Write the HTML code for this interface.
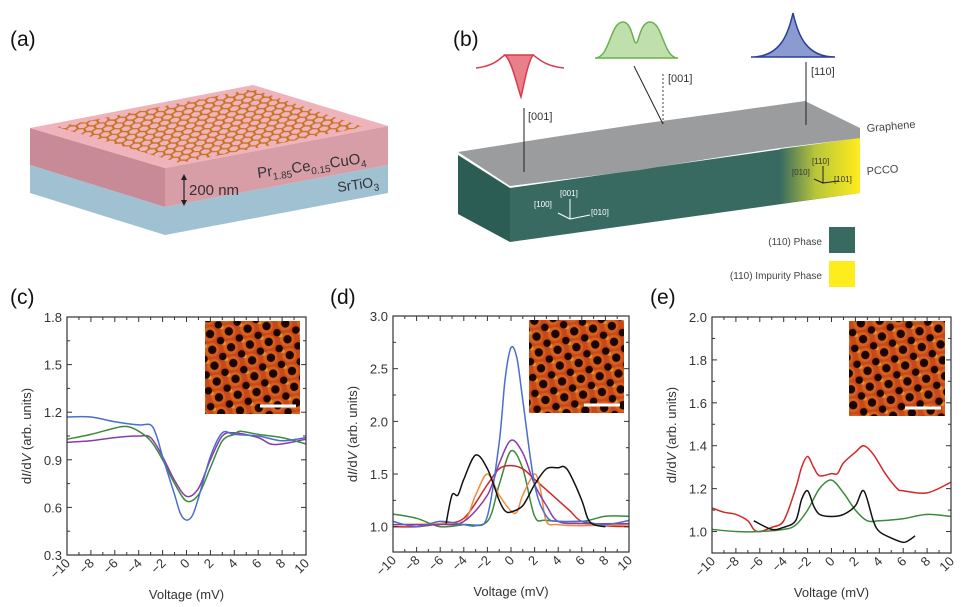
<!DOCTYPE html>
<html><head><meta charset="utf-8">
<style>
html,body{margin:0;padding:0;background:#fff;}
svg{display:block;font-family:"Liberation Sans",sans-serif;}
.lbl{font-family:"Liberation Sans",sans-serif;font-size:21px;fill:#111;}
.tick{font-size:13px;fill:#333;}
.ax{font-size:13px;fill:#333;}
</style></head>
<body>
<svg id="fig" width="978" height="607" viewBox="0 0 978 607" xmlns="http://www.w3.org/2000/svg">
<defs>
  <pattern id="hexpat" width="18" height="10.4" patternUnits="userSpaceOnUse" patternTransform="skewX(-25) scale(1,0.55)">
    <path d="M0 5.2 L3 0 L9 0 L12 5.2 L9 10.4 L3 10.4 Z M9 0 L12 5.2 L18 5.2" fill="none" stroke="#c8701c" stroke-width="2.2"/>
  </pattern>
  <clipPath id="topclip"><polygon points="57,127 253,89 363,127 180,163"/></clipPath>
  <pattern id="stm" width="19" height="16" patternUnits="userSpaceOnUse" patternTransform="rotate(-8)">
    <rect width="19" height="16" fill="#c8481a"/>
    <circle cx="9" cy="8" r="7" fill="#e0701e" opacity="0.6"/>
    <circle cx="3" cy="3" r="2" fill="#f0b030" opacity="0.7"/>
    <circle cx="9.5" cy="8" r="4.2" fill="#1a0500"/>
    <circle cx="0" cy="0" r="3.8" fill="#1a0500"/>
    <circle cx="19" cy="0" r="3.8" fill="#1a0500"/>
    <circle cx="0" cy="16" r="3.8" fill="#1a0500"/>
    <circle cx="19" cy="16" r="3.8" fill="#1a0500"/>
  </pattern>
  <linearGradient id="yel" x1="0" x2="1" y1="0" y2="0">
    <stop offset="0" stop-color="#386a62"/>
    <stop offset="0.45" stop-color="#b9c63a"/>
    <stop offset="1" stop-color="#ffec1c"/>
  </linearGradient>
</defs>

<!-- Panel (a) -->
<g>
  <text class="lbl" x="10" y="46">(a)</text>
  <polygon points="30,165 165,207 388,165 388,193 165,235 30,193" fill="#9fc1d2"/>
  <polygon points="30,128 165,168 165,207 30,165" fill="#c98a98"/>
  <polygon points="165,168 388,126 388,165 165,207" fill="#d89ea8"/>
  <polygon points="30,128 253,85 388,126 165,168" fill="#eeb3bb"/>
  <rect x="40" y="80" width="340" height="95" fill="url(#hexpat)" clip-path="url(#topclip)"/>
  <line x1="184" y1="176" x2="184" y2="204" stroke="#222" stroke-width="1.2"/>
  <polygon points="184,174 181,180 187,180" fill="#222"/><polygon points="184,206 181,200 187,200" fill="#222"/>
  <text x="189" y="195" font-size="15" fill="#333">200 nm</text>
  <text x="258" y="178" font-size="15" fill="#333" transform="rotate(-8 258 178)">Pr<tspan font-size="10" dy="4">1.85</tspan><tspan dy="-4">Ce</tspan><tspan font-size="10" dy="4">0.15</tspan><tspan dy="-4">CuO</tspan><tspan font-size="10" dy="4">4</tspan></text>
  <text x="338" y="192" font-size="14" fill="#333" transform="rotate(-8 338 192)">SrTiO<tspan font-size="10" dy="4">3</tspan></text>
</g>

<!-- Panel (b) -->
<g>
  <text class="lbl" x="453" y="46">(b)</text>
  <polygon points="458,155 510,188 510,242 458,214" fill="#2c5d55"/>
  <polygon points="510,188 860,138 860,193 510,242" fill="#386a62"/>
  <polygon points="780,149 860,138 860,193 780,204" fill="url(#yel)"/>
  <path d="M458,152 L560,136 Q600,130 640,124 L720,113 L805,101 L860,128 L860,138 L780,148 Q700,160 640,170 L510,186 Z" fill="#9b9c9e"/>
  <line x1="524" y1="172" x2="524" y2="108" stroke="#222" stroke-width="1"/>
  <text x="528" y="120" font-size="11" fill="#333">[001]</text>
  <line x1="663" y1="124" x2="634" y2="66" stroke="#222" stroke-width="1"/>
  <line x1="663" y1="124" x2="663" y2="72" stroke="#444" stroke-width="1" stroke-dasharray="2,2"/>
  <text x="668" y="82" font-size="11" fill="#333">[001]</text>
  <line x1="806" y1="125" x2="806" y2="62" stroke="#222" stroke-width="1"/>
  <text x="811" y="75" font-size="11" fill="#333">[110]</text>
  <path d="M476,68 C495,66 500,58 505,55 M533,55 C538,58 544,66 564,68" fill="none" stroke="#d83a4a" stroke-width="1.5"/>
  <path d="M505,55 C512,62 516,82 521,97 C525,80 528,62 533,55 Z" fill="#e8808c" stroke="#d83a4a" stroke-width="1.5"/>
  <path d="M595,58 C610,58 610,22 623,22 C632,22 633,43 636,43 C639,43 640,22 650,22 C663,22 663,58 678,58 Z" fill="#bfe0ad" stroke="#6ab04c" stroke-width="1.5"/>
  <path d="M751,57 C780,57 788,35 793,13 C798,35 806,57 835,57 Z" fill="#8a9bd0" stroke="#2a3d9a" stroke-width="1.5"/>
  <text x="867" y="132" font-size="11" fill="#444" transform="rotate(-5 867 132)">Graphene</text>
  <text x="867" y="175" font-size="11" fill="#444" transform="rotate(-5 867 175)">PCCO</text>
  <g fill="#fff" font-size="8" stroke="none">
    <text x="560" y="196">[001]</text><text x="591" y="215">[010]</text><text x="534" y="207">[100]</text>
  </g>
  <path d="M570,199 L570,219 L590,215 M570,219 L558,213" stroke="#fff" stroke-width="1" fill="none"/>
  <g fill="#333" font-size="8">
    <text x="812" y="164">[110]</text><text x="834" y="182">[101]</text><text x="792" y="175">[010]</text>
  </g>
  <path d="M823,166 L823,183 L838,181 M823,183 L814,179" stroke="#222" stroke-width="1" fill="none"/>
  <text x="822" y="245" font-size="10" fill="#444" text-anchor="end">(110) Phase</text>
  <rect x="829" y="227" width="26" height="26" fill="#386a62"/>
  <text x="822" y="279" font-size="10" fill="#444" text-anchor="end">(110) Impurity Phase</text>
  <rect x="829" y="261" width="26" height="26" fill="#ffec1c"/>
</g>

<text class="lbl" x="10" y="304">(c)</text>
<text class="lbl" x="330" y="304">(d)</text>
<text class="lbl" x="650" y="304">(e)</text>
<g id="charts"></g>
</svg>
<script>
// ---- Panel (c) data ----
const cBlueX = [-10,-8,-6,-4,-3,-2.5,-2,-1,-0.5,0,0.5,1,2,3,4,6,8,10];
const cBlueY = [1.17,1.17,1.14,1.12,1.12,1.05,0.92,0.68,0.56,0.52,0.55,0.66,0.92,1.07,1.06,1.05,1.02,1.04];
const cGreenX = [-10,-8,-6,-5,-4,-3,-2,-1,0,1,2,3,4,4.5,6,8,10];
const cGreenY = [1.03,1.06,1.10,1.11,1.08,1.02,0.90,0.75,0.64,0.68,0.85,1.02,1.06,1.08,1.06,1.04,1.00];
const cPurpleX = [-10,-8,-6,-4,-3,-2,-1,0,1,2,3,4,6,7,8,10];
const cPurpleY = [1.01,1.02,1.04,1.05,1.04,0.92,0.77,0.67,0.72,0.90,1.05,1.07,1.04,1.00,1.00,1.03];
const cYTicks = [0.3,0.6,0.9,1.2,1.5,1.8];
// ---- Panel (d) data ----
const dBlueX = [-10,-8,-6,-4,-3,-2,-1,-0.5,0,0.5,1,2,3,4,6,8,10];
const dBlueY = [1.05,1.0,1.05,1.02,1.01,1.1,1.8,2.4,2.7,2.6,2.2,1.4,1.1,1.05,1.05,1.02,1.06];
const dPurpleX = [-10,-6,-4,-2,-1,0,1,2,3,4,6,10];
const dPurpleY = [1.02,1.02,1.05,1.3,1.6,1.82,1.7,1.4,1.2,1.05,1.03,1.03];
const dGreenX = [-10,-8,-6,-4,-2,-1,0,1,2,3,6,8,10];
const dGreenY = [1.12,1.08,1.0,1.02,1.05,1.4,1.72,1.55,1.1,1.06,1.05,1.1,1.1];
const dRedX = [-10,-8,-6,-4,-2,-1,0,1,2,3,4,5,6,8,10];
const dRedY = [1.0,1.0,1.03,1.08,1.4,1.55,1.58,1.55,1.45,1.35,1.25,1.15,1.05,1.01,1.0];
const dOrangeX = [-10,-6,-4,-3,-2,-1,0,0.5,1,2,2.5,3,4,6,10];
const dOrangeY = [1.02,1.03,1.05,1.3,1.5,1.3,1.15,1.14,1.3,1.5,1.35,1.05,1.02,1.01,1.02];
const dBlackX = [-5.5,-5,-4.5,-4,-3,-2,-1,-0.5,0,1,2,3,4,4.5,5,6,6.5,7,8];
const dBlackY = [1.03,1.3,1.3,1.45,1.68,1.55,1.25,1.15,1.14,1.2,1.4,1.55,1.56,1.57,1.5,1.25,1.08,1.02,1.0];
const dYTicks = [1.0,1.5,2.0,2.5,3.0];
// ---- Panel (e) data ----
const eRedX = [-10,-9,-8,-7,-6.5,-6,-5,-4,-3,-2.5,-2,-1.5,-1,0,0.5,1,2,2.7,3.5,4.5,5.5,6,8,10];
const eRedY = [1.11,1.09,1.08,1.05,1.01,1.0,1.02,1.05,1.2,1.3,1.35,1.3,1.26,1.27,1.27,1.32,1.37,1.40,1.36,1.27,1.2,1.19,1.18,1.23];
const eGreenX = [-10,-8,-6,-4,-3,-2,-1,0,1,2,3,4,6,8,10];
const eGreenY = [1.01,1.0,1.0,1.01,1.03,1.1,1.2,1.24,1.18,1.1,1.05,1.05,1.06,1.08,1.07];
const eBlackX = [-6.5,-5,-4,-3,-2.5,-2,-1.5,-1,0,1,2,2.7,3.5,4,5,6,6.5,7];
const eBlackY = [1.05,1.01,1.02,1.05,1.15,1.19,1.12,1.08,1.07,1.08,1.12,1.19,1.05,1.0,0.97,0.95,0.96,0.98];
const eYTicks = [1.0,1.2,1.4,1.6,1.8,2.0];
const xTicks = [-10,-8,-6,-4,-2,0,2,4,6,8,10];

const NS = "http://www.w3.org/2000/svg";
const root = document.getElementById('charts');
function mk(tag, attrs, parent){ const e=document.createElementNS(NS,tag); for(const k in attrs) e.setAttribute(k,attrs[k]); (parent||root).appendChild(e); return e; }
function smooth(pts){
  let d='M'+pts[0][0].toFixed(1)+','+pts[0][1].toFixed(1);
  for(let i=0;i<pts.length-1;i++){
    const p0=pts[Math.max(i-1,0)],p1=pts[i],p2=pts[i+1],p3=pts[Math.min(i+2,pts.length-1)];
    const t=0.16;
    const c1=[p1[0]+(p2[0]-p0[0])*t,p1[1]+(p2[1]-p0[1])*t];
    const c2=[p2[0]-(p3[0]-p1[0])*t,p2[1]-(p3[1]-p1[1])*t];
    d+=` C${c1[0].toFixed(1)},${c1[1].toFixed(1)} ${c2[0].toFixed(1)},${c2[1].toFixed(1)} ${p2[0].toFixed(1)},${p2[1].toFixed(1)}`;
  }
  return d;
}

function chart(id, box, ymin, ymax, yTicks, yFmt, series, inset){
  const g = mk('g',{});
  
  
  const sx = v => box.l + (v+10)/20*(box.r-box.l);
  const sy = v => box.b - (v-ymin)/(ymax-ymin)*(box.b-box.t);
  const im = mk('rect',{x:inset[0],y:inset[1],width:inset[2],height:inset[3],fill:'url(#stm)'},g);
  
  
  const sb = mk('line',{x1:inset[0]+inset[2]-40,x2:inset[0]+inset[2]-4,y1:inset[1]+inset[3]-8,y2:inset[1]+inset[3]-8,stroke:'#fff','stroke-width':3},g);
  
  
  series.forEach(s=>{
    const pts = s.x.map((x,i)=>[sx(x),sy(s.y[i])]);
    const p = mk('path',{d:smooth(pts),fill:'none',stroke:s.c,'stroke-width':1.5,'stroke-linejoin':'round'},g);
    
    
  });
  const fr = mk('rect',{x:box.l,y:box.t,width:box.r-box.l,height:box.b-box.t,fill:'none',stroke:'#333','stroke-width':1.2},g);
  
  
  for(let v=-10; v<=10; v++){
    const len = v%2===0?5:3, x=sx(v);
    mk('line',{x1:x,x2:x,y1:box.b,y2:box.b-len,stroke:'#333'},g);
    mk('line',{x1:x,x2:x,y1:box.t,y2:box.t+len,stroke:'#333'},g);
  }
  xTicks.forEach(v=>{
    const x=sx(v)+4, y=box.b+9;
    const t = mk('text',{x:x,y:y,'text-anchor':'end',class:'tick',transform:`rotate(-45 ${x} ${y})`},g);
    t.textContent = v<0?'\u2212'+(-v):String(v);
    
    
  });
  const step = yTicks[1]-yTicks[0];
  for(let v=yTicks[0]-step; v<=ymax+1e-9; v+=step/2){
    if(v<ymin-1e-9) continue;
    const y=sy(v), major=Math.abs(((v-yTicks[0])/step)-Math.round((v-yTicks[0])/step))<1e-6;
    const len=major?5:3;
    mk('line',{x1:box.l,x2:box.l+len,y1:y,y2:y,stroke:'#333'},g);
    mk('line',{x1:box.r,x2:box.r-len,y1:y,y2:y,stroke:'#333'},g);
  }
  yTicks.forEach(v=>{
    const t = mk('text',{x:box.l-5,y:sy(v)+5,'text-anchor':'end',class:'tick'},g);
    t.textContent = v.toFixed(yFmt);
    
    
  });
  const cx=(box.l+box.r)/2, cy=(box.t+box.b)/2;
  const xt = mk('text',{x:cx,y:box.b+44,'text-anchor':'middle',class:'ax'},g);
  xt.textContent='Voltage (mV)';
  
  
  const yx = box.l-36;
  const yt = mk('text',{x:yx,y:cy,'text-anchor':'middle',class:'ax',transform:`rotate(-90 ${yx} ${cy})`},g);
  yt.innerHTML='d<tspan font-style="italic">I</tspan>/d<tspan font-style="italic">V</tspan> (arb. units)';
  
  
}

chart('panel-c',{l:67,r:306,t:317,b:555},0.3,1.8,cYTicks,1,[
  {n:'purple',x:cPurpleX,y:cPurpleY,c:'#8a3ca8'},
  {n:'green',x:cGreenX,y:cGreenY,c:'#3c8a3c'},
  {n:'blue',x:cBlueX,y:cBlueY,c:'#4a6ed0'}],[205,321,95,93]);
chart('panel-d',{l:393,r:629,t:316,b:552},0.76,3.0,dYTicks,1,[
  {n:'green',x:dGreenX,y:dGreenY,c:'#3c8a3c'},
  {n:'red',x:dRedX,y:dRedY,c:'#d02828'},
  {n:'orange',x:dOrangeX,y:dOrangeY,c:'#f08a40'},
  {n:'purple',x:dPurpleX,y:dPurpleY,c:'#8a3ca8'},
  {n:'blue',x:dBlueX,y:dBlueY,c:'#4a6ed0'},
  {n:'black',x:dBlackX,y:dBlackY,c:'#111'}],[529,320,95,93]);
chart('panel-e',{l:712,r:951,t:317,b:553},0.9,2.0,eYTicks,1,[
  {n:'red',x:eRedX,y:eRedY,c:'#d02828'},
  {n:'green',x:eGreenX,y:eGreenY,c:'#3c8a3c'},
  {n:'black',x:eBlackX,y:eBlackY,c:'#111'}],[849,321,96,95]);
</script>
</body></html>
